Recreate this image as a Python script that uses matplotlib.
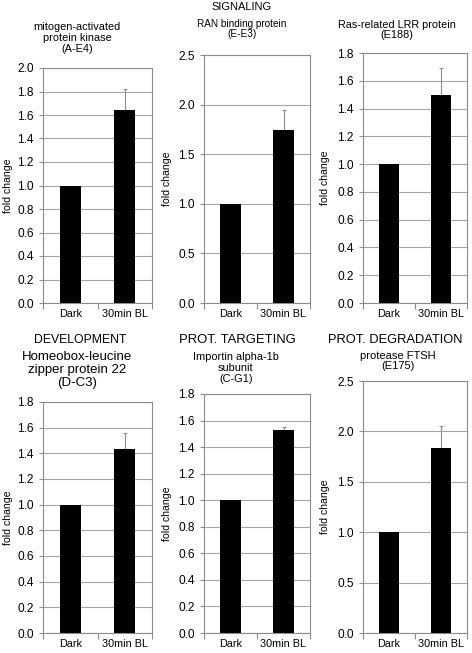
import matplotlib
matplotlib.use("Agg")
import matplotlib.pyplot as plt

plt.rcParams['font.family'] = ['Liberation Sans', 'DejaVu Sans']

W, H = 472, 653

categories = ["Dark", "30min BL"]

titles = [
    "mitogen-activated\nprotein kinase\n(A-E4)",
    "RAN binding protein\n(E-E3)",
    "Ras-related LRR protein\n(E188)",
    "Homeobox-leucine\nzipper protein 22\n(D-C3)",
    "Importin alpha-1b\nsubunit\n(C-G1)",
    "protease FTSH\n(E175)",
]
values = [
    [1.0, 1.64],
    [1.0, 1.74],
    [1.0, 1.50],
    [1.0, 1.43],
    [1.0, 1.53],
    [1.0, 1.84],
]
errors = [
    [0.0, 0.18],
    [0.0, 0.21],
    [0.0, 0.19],
    [0.0, 0.13],
    [0.0, 0.02],
    [0.0, 0.21],
]
ymax = [2.0, 2.5, 1.8, 1.8, 1.8, 2.5]
ystep = [0.2, 0.5, 0.2, 0.2, 0.2, 0.5]

sections = ["SIGNALING", "DEVELOPMENT", "PROT. TARGETING", "PROT. DEGRADATION"]
section_size = [8.0, 8.8, 9.4, 9.3]

# axes boxes in pixels: left, top, right, bottom
boxes = [
    (43, 68, 152, 303),
    (204, 55, 310, 303),
    (363, 53, 467, 303),
    (43, 402, 152, 633),
    (204, 394, 310, 633),
    (363, 381, 467, 633),
]
# title placement: x center, y center of block, font size
title_pos = [
    (77, 38, 7.9),
    (242, 29, 7.2),
    (397, 30, 7.8),
    (77, 370, 9.5),
    (236, 368, 7.9),
    (398, 361, 8.0),
]
section_pos = [(242, 7), (80, 340), (237, 340), (395, 340)]
ylab_x = [8, 167, 325, 8, 167, 325]

gray = "#8c8c8c"

fig = plt.figure(figsize=(W / 100, H / 100), dpi=100)

for i in range(6):
    l, t, r, b = boxes[i]
    ax = fig.add_axes([l / W, 1 - b / H, (r - l) / W, (b - t) / H])
    x = range(len(categories))
    ax.bar(x, values[i], width=0.39, color="black", zorder=3)
    ax.errorbar(x[1], values[i][1], yerr=[[0], [errors[i][1]]], fmt="none",
                ecolor=gray, elinewidth=0.8, capsize=1.5, capthick=0.8, zorder=2)
    ax.set_xlim(-0.5, 1.5)
    ax.set_ylim(0, ymax[i])
    n = int(round(ymax[i] / ystep[i]))
    ticks = [k * ystep[i] for k in range(n + 1)]
    ax.set_yticks(ticks)
    ax.set_yticklabels(["%.1f" % v for v in ticks])
    ax.yaxis.grid(True, color="#a6a6a6", lw=0.8, zorder=0)
    ax.set_axisbelow(True)
    ax.set_xticks(list(x))
    ax.set_xticklabels(categories)
    ax.set_xticks([-0.5, 0.5, 1.5], minor=True)
    ax.tick_params(axis="x", which="major", length=0, labelsize=7.8, pad=4.3)
    ax.tick_params(axis="x", which="minor", length=4, color=gray, width=0.8)
    ax.tick_params(axis="y", length=3, color=gray, width=0.8, labelsize=8.6, pad=3.5)
    for s in ax.spines.values():
        s.set_color(gray)
        s.set_linewidth(0.8)

    tx, ty, fs = title_pos[i]
    fig.text(tx / W, 1 - ty / H, titles[i], ha="center", va="center",
             fontsize=fs, linespacing=1.1)
    fig.text(ylab_x[i] / W, 1 - ((t + b) / 2) / H, "fold change", rotation=90,
             ha="center", va="center", fontsize=7.6)

for s, fs, (sx, sy) in zip(sections, section_size, section_pos):
    fig.text(sx / W, 1 - sy / H, s, ha="center", va="center", fontsize=fs)

fig.savefig("out.png", dpi=100)
